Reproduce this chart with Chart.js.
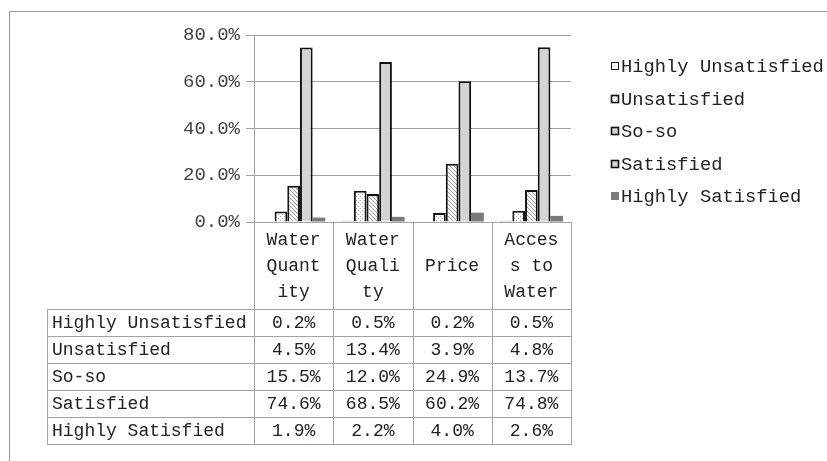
<!DOCTYPE html>
<html>
<head>
<meta charset="utf-8">
<script src="https://cdn.jsdelivr.net/npm/chart.js@4/dist/chart.umd.min.js"></script>
<style>
  html, body { margin: 0; padding: 0; background: #fff; }
  canvas { display: block; }
</style>
</head>
<body>
<canvas id="chart" width="827" height="461"></canvas>
<script>
// Satisfaction survey: share of answers per aspect of water service (%)
const categories = [["Water", "Quant", "ity"], ["Water", "Quali", "ty"], ["Price"], ["Acces", "s to", "Water"]];
const seriesNames = ["Highly Unsatisfied", "Unsatisfied", "So-so", "Satisfied", "Highly Satisfied"];
const highlyUnsatisfied = [0.2, 0.5, 0.2, 0.5];
const unsatisfied = [4.5, 13.4, 3.9, 4.8];
const soSo = [15.5, 12.0, 24.9, 13.7];
const satisfied = [74.6, 68.5, 60.2, 74.8];
const highlySatisfied = [1.9, 2.2, 4.0, 2.6];
const yTicks = [0, 20, 40, 60, 80];

const FONT = '"Liberation Mono", "DejaVu Sans Mono", monospace';
const LINE = '#a3a3a3';

function makeTile(size, paint) {
  const c = document.createElement('canvas');
  c.width = size; c.height = size;
  const g = c.getContext('2d');
  g.fillStyle = '#fff';
  g.fillRect(0, 0, size, size);
  paint(g);
  return c.getContext('2d').createPattern(c, 'repeat');
}
// sparse dots
const dotted = makeTile(4, g => {
  g.fillStyle = '#a8a8a8';
  g.fillRect(0, 0, 1, 1);
  g.fillRect(2, 2, 1, 1);
});
// downward diagonal hatch
const hatched = makeTile(4, g => {
  g.fillStyle = '#9a9a9a';
  for (let i = 0; i < 4; i++) g.fillRect(i, i, 1, 1);
});

const seriesValues = [highlyUnsatisfied, unsatisfied, soSo, satisfied, highlySatisfied];
const seriesStyle = [
  { bg: '#ffffff', border: '#222', bw: 1 },
  { bg: dotted, border: '#111', bw: 2 },
  { bg: hatched, border: '#111', bw: 2 },
  { bg: '#d4d4d4', border: '#111', bw: 2 },
  { bg: '#7a7a7a', border: '#7a7a7a', bw: 0 }
];

const datasets = seriesNames.map((name, i) => ({
  label: name,
  data: seriesValues[i],
  backgroundColor: seriesStyle[i].bg,
  borderColor: seriesStyle[i].border,
  borderWidth: seriesStyle[i].bw,
  borderSkipped: 'bottom'
}));

const fmt = v => v.toFixed(1) + '%';

// data table under the plot, aligned to the category columns
const tablePlugin = {
  id: 'dataTable',
  afterDraw(chart) {
    const ctx = chart.ctx;
    const area = chart.chartArea;
    const n = categories.length;
    const colW = area.width / n;
    const tableLeft = 47;
    const headerBottom = 309;
    const rowH = 27;
    const tableBottom = headerBottom + rowH * seriesNames.length;

    ctx.save();
    ctx.strokeStyle = LINE;
    ctx.lineWidth = 1;
    ctx.beginPath();
    for (let i = 0; i <= n; i++) {
      const x = Math.round(area.left + i * colW) + 0.5;
      ctx.moveTo(x, area.bottom);
      ctx.lineTo(x, tableBottom);
    }
    ctx.moveTo(tableLeft + 0.5, headerBottom);
    ctx.lineTo(tableLeft + 0.5, tableBottom);
    for (let k = 0; k <= seriesNames.length; k++) {
      const y = headerBottom + k * rowH + 0.5;
      ctx.moveTo(tableLeft, y);
      ctx.lineTo(Math.round(area.right) + 1, y);
    }
    ctx.stroke();

    ctx.fillStyle = '#222';
    ctx.font = '18px ' + FONT;
    ctx.textBaseline = 'middle';
    ctx.textAlign = 'center';
    const headMid = (area.bottom + headerBottom) / 2;
    categories.forEach((lines, i) => {
      const cx = area.left + (i + 0.5) * colW;
      const step = 26;
      const y0 = headMid - (lines.length - 1) * step / 2;
      lines.forEach((t, j) => ctx.fillText(t, cx, y0 + j * step + 1));
    });
    seriesNames.forEach((name, r) => {
      const cy = headerBottom + r * rowH + rowH / 2 + 1;
      ctx.textAlign = 'left';
      ctx.fillText(name, tableLeft + 5, cy);
      ctx.textAlign = 'center';
      seriesValues[r].forEach((v, i) => {
        ctx.fillText(fmt(v), area.left + (i + 0.5) * colW, cy);
      });
    });
    ctx.restore();
  }
};

// legend to the right of the plot
const legendPlugin = {
  id: 'sideLegend',
  afterDraw(chart) {
    const ctx = chart.ctx;
    const x0 = 611, y0 = 66, step = 32.5, box = 8;
    ctx.save();
    ctx.font = '18.8px ' + FONT;
    ctx.textBaseline = 'middle';
    ctx.textAlign = 'left';
    seriesNames.forEach((name, i) => {
      const y = Math.round(y0 + i * step);
      const s = seriesStyle[i];
      ctx.fillStyle = i === 2 ? '#d8d8d8' : s.bg;
      ctx.fillRect(x0, y - box / 2, box, box);
      if (s.bw > 0) {
        ctx.strokeStyle = s.border;
        ctx.lineWidth = s.bw === 1 ? 1 : 1.6;
        ctx.strokeRect(x0 + 0.5, y - box / 2 + 0.5, box - 1, box - 1);
      }
      ctx.fillStyle = '#222';
      ctx.fillText(name, x0 + box + 2, y + 1);
    });
    ctx.restore();
  }
};

// thin frame on the top and left edges
const framePlugin = {
  id: 'frame',
  beforeDraw(chart) {
    const ctx = chart.ctx;
    ctx.save();
    ctx.fillStyle = '#fff';
    ctx.fillRect(0, 0, chart.width, chart.height);
    ctx.strokeStyle = '#9a9a9a';
    ctx.lineWidth = 1;
    ctx.beginPath();
    ctx.moveTo(9.5, chart.height);
    ctx.lineTo(9.5, 11.5);
    ctx.lineTo(chart.width, 11.5);
    ctx.stroke();
    ctx.restore();
  }
};

new Chart(document.getElementById('chart'), {
  type: 'bar',
  data: { labels: categories, datasets },
  options: {
    responsive: false,
    animation: false,
    devicePixelRatio: 1,
    layout: { padding: { left: 0, top: 35, right: 256, bottom: 239 } },
    datasets: { bar: { categoryPercentage: 0.8, barPercentage: 1.0 } },
    plugins: { legend: { display: false }, tooltip: { enabled: false } },
    scales: {
      x: {
        grid: { display: false },
        ticks: { display: false },
        border: { display: true, color: LINE },
        afterFit(s) { s.height = 0; }
      },
      y: {
        min: 0,
        max: 80,
        afterBuildTicks(s) { s.ticks = yTicks.map(v => ({ value: v })); },
        ticks: {
          callback: v => fmt(v),
          font: { family: FONT, size: 19 },
          color: '#444',
          padding: 6
        },
        grid: { color: LINE, tickLength: 8 },
        border: { color: LINE },
        afterFit(s) { s.width = 254; }
      }
    }
  },
  plugins: [framePlugin, tablePlugin, legendPlugin]
});
</script>
</body>
</html>
